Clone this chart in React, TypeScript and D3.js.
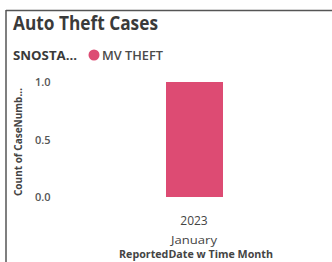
import React from "react";
import * as d3 from "d3";

const categories = ["2023 January"];
const yearLabels = ["2023"];
const monthLabels = ["January"];
const values = [1];
const yTicks = [0, 0.5, 1.0];
const seriesName = "MV THEFT";
const legendTitle = "SNOSTA...";
const title = "Auto Theft Cases";
const yAxisTitle = "Count of CaseNumb...";
const xAxisTitle = "ReportedDate w Time Month";

export default function App() {
  const W = 332, H = 262;
  const x = d3.scaleBand().domain(categories).range([166, 223]).padding(0);
  const y = d3.scaleLinear().domain([0, 1]).range([197, 82]);
  const font = "'Open Sans', 'Noto Sans', sans-serif";
  const barColor = "#dd4b73";
  return (
    <div style={{ position: "absolute", left: 0, top: 0 }}>
      <svg width={W} height={H} style={{ display: "block" }}>
        <rect width={W} height={H} fill="#fff" />
        <line x1={6} y1={10.5} x2={W} y2={10.5} stroke="#555" strokeWidth={1.5} />
        <line x1={6} y1={10} x2={6} y2={H} stroke="#555" strokeWidth={1.5} />
        <text x={13} y={30} fontFamily={font} fontWeight={700} fontSize={19} fill="#3a3a3a" textLength={145} lengthAdjust="spacingAndGlyphs">{title}</text>
        <text x={13} y={60} fontFamily={font} fontWeight={700} fontSize={13} fill="#3a3a3a" textLength={64} lengthAdjust="spacingAndGlyphs">{legendTitle}</text>
        <circle cx={94} cy={55} r={5.5} fill={barColor} />
        <text x={102} y={60} fontFamily={font} fontWeight={600} fontSize={13} fill="#4a4a4a" textLength={61} lengthAdjust="spacingAndGlyphs">{seriesName}</text>
        {yTicks.map((t) => (
          <text key={t} x={35} y={y(t) + 4} fontFamily={font} fontSize={11} fill="#555" fontWeight={600}>{d3.format(".1f")(t)}</text>
        ))}
        <text transform={`translate(22,142) rotate(-90)`} textAnchor="middle" fontFamily={font} fontWeight={700} fontSize={10} fill="#444" textLength={108} lengthAdjust="spacingAndGlyphs">{yAxisTitle}</text>
        {categories.map((c, i) => (
          <rect key={c} x={x(c)} y={y(values[i])} width={x.bandwidth()} height={y(0) - y(values[i])} fill={barColor} />
        ))}
        {categories.map((c, i) => (
          <g key={c}>
            <text x={(x(c) as number) + x.bandwidth() / 2 - 0.5} y={225} textAnchor="middle" fontFamily={font} fontSize={12} fill="#444">{yearLabels[i]}</text>
            <text x={(x(c) as number) + x.bandwidth() / 2 - 0.5} y={244} textAnchor="middle" fontFamily={font} fontSize={11} fill="#444" textLength={46} lengthAdjust="spacingAndGlyphs">{monthLabels[i]}</text>
          </g>
        ))}
        <text x={196} y={258} textAnchor="middle" fontFamily={font} fontWeight={700} fontSize={11} fill="#444" textLength={154} lengthAdjust="spacingAndGlyphs">{xAxisTitle}</text>
      </svg>
    </div>
  );
}
